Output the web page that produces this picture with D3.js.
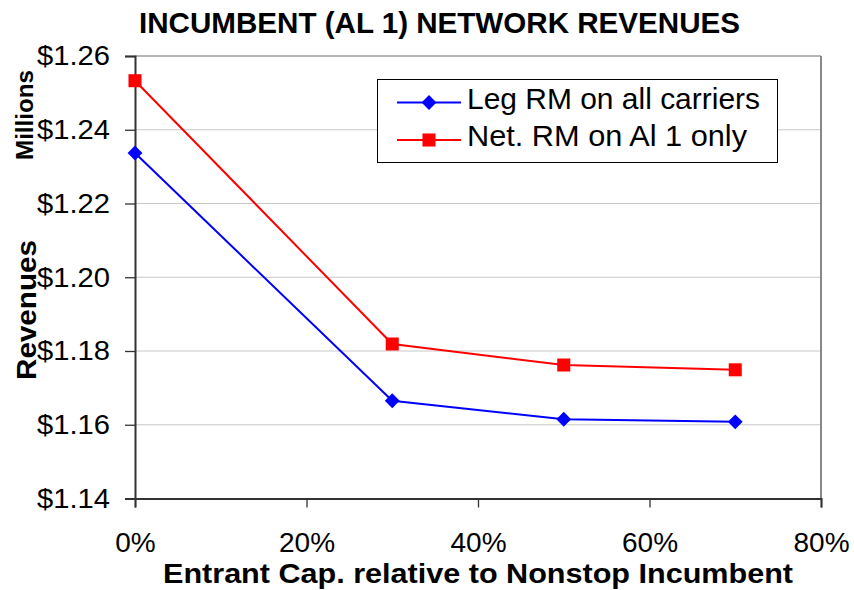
<!DOCTYPE html>
<html><head><meta charset="utf-8">
<script src="https://cdn.jsdelivr.net/npm/d3@7"></script>
<style>body{margin:0;background:#fff}svg{display:block}text{font-family:"Liberation Sans",Arial,sans-serif}</style>
</head><body>
<script>
const xValues = [0, 30, 50, 70];
const legRM = [1.2337, 1.1665, 1.1615, 1.1608];
const netRM = [1.2533, 1.1819, 1.1762, 1.1749];
const yTicks = [1.14, 1.16, 1.18, 1.20, 1.22, 1.24, 1.26];
const xTicks = [0, 20, 40, 60, 80];
const seriesNames = ["Leg RM on all carriers", "Net. RM on Al 1 only"];

const W = 854, H = 590;
const svg = d3.select("body").append("svg").attr("width", W).attr("height", H);
const m = {l: 135, r: 821, t: 56, b: 498.5};
const x = d3.scaleLinear().domain([0, 80]).range([m.l, m.r]);
const y = d3.scaleLinear().domain([1.14, 1.26]).range([m.b, m.t]);
const FF = '"Liberation Sans",Arial,sans-serif';

// gridlines
svg.append("g").selectAll("line").data(yTicks.slice(1)).join("line")
  .attr("x1", m.l).attr("x2", m.r).attr("y1", d => y(d)).attr("y2", d => y(d))
  .attr("stroke", "#c8c8c8").attr("stroke-width", 1);
// right / top border
svg.append("line").attr("x1", m.r).attr("x2", m.r).attr("y1", m.t).attr("y2", m.b)
  .attr("stroke", "#888").attr("stroke-width", 2);
svg.append("line").attr("x1", m.l).attr("x2", m.r).attr("y1", m.t).attr("y2", m.t)
  .attr("stroke", "#888").attr("stroke-width", 1);

// axes
const yAxis = d3.axisLeft(y).tickValues(yTicks).tickFormat(d => "$" + d.toFixed(2)).tickSize(10).tickPadding(15);
const gy = svg.append("g").attr("transform", `translate(${m.l},0)`).call(yAxis);
gy.select(".domain").attr("stroke", "#333").attr("stroke-width", 2);
gy.selectAll(".tick line").attr("stroke", "#333").attr("stroke-width", 1.3);
gy.selectAll("text").attr("font-size", 28).attr("fill", "#000").attr("font-family", FF)
  .attr("textLength", 73).attr("lengthAdjust", "spacingAndGlyphs");

const xAxis = d3.axisBottom(x).tickValues(xTicks).tickFormat(d => d + "%").tickSize(9).tickPadding(0);
const gx = svg.append("g").attr("transform", `translate(0,${m.b})`).call(xAxis);
gx.select(".domain").attr("stroke", "#333").attr("stroke-width", 2);
gx.selectAll(".tick line").attr("stroke", "#333").attr("stroke-width", 1.3);
gx.selectAll("text").attr("font-size", 28).attr("fill", "#000").attr("font-family", FF)
  .attr("dy", null).attr("y", 53.5);

// lines
const line = d3.line().x((d, i) => x(xValues[i])).y(d => y(d));
svg.append("path").datum(netRM).attr("d", line).attr("fill", "none").attr("stroke", "#ff0000").attr("stroke-width", 2);
svg.append("path").datum(legRM).attr("d", line).attr("fill", "none").attr("stroke", "#0000ff").attr("stroke-width", 2);

const sq = d3.symbol().type(d3.symbolSquare).size(170);
const dia = d3.symbol().type(d3.symbolSquare).size(110);
svg.append("g").selectAll("path").data(netRM).join("path")
  .attr("d", sq).attr("transform", (d, i) => `translate(${x(xValues[i])},${y(d)})`).attr("fill", "#ff0000");
svg.append("g").selectAll("path").data(legRM).join("path")
  .attr("d", dia)
  .attr("transform", (d, i) => `translate(${x(xValues[i])},${y(d)}) rotate(45)`).attr("fill", "#0000ff");

// legend
const lg = svg.append("g");
lg.append("rect").attr("x", 377.5).attr("y", 79.5).attr("width", 400).attr("height", 83)
  .attr("fill", "#fff").attr("stroke", "#000").attr("stroke-width", 1);
const lcol = ["#0000ff", "#ff0000"];
[0, 1].forEach(i => {
  const cy = 102.5 + i * 37.5;
  lg.append("line").attr("x1", 397).attr("x2", 461).attr("y1", cy).attr("y2", cy).attr("stroke", lcol[i]).attr("stroke-width", 2);
  if (i === 0) lg.append("path").attr("d", dia).attr("transform", `translate(429,${cy}) rotate(45)`).attr("fill", lcol[i]);
  else lg.append("path").attr("d", sq).attr("transform", `translate(429,${cy})`).attr("fill", lcol[i]);
  lg.append("text").attr("x", 467).attr("y", cy + 6).attr("font-size", 30).attr("fill", "#000")
    .attr("textLength", i === 0 ? 293 : 280).attr("lengthAdjust", "spacingAndGlyphs").text(seriesNames[i]);
});

// titles
svg.append("text").attr("x", 139).attr("y", 33).attr("font-size", 30).attr("font-weight", "bold")
  .attr("textLength", 601).attr("lengthAdjust", "spacingAndGlyphs").text("INCUMBENT (AL 1)  NETWORK REVENUES");
svg.append("text").attr("x", 163).attr("y", 583).attr("font-size", 28).attr("font-weight", "bold")
  .attr("textLength", 630).attr("lengthAdjust", "spacingAndGlyphs").text("Entrant Cap. relative to Nonstop Incumbent");
svg.append("text").attr("transform", "translate(36,380) rotate(-90)").attr("font-size", 28).attr("font-weight", "bold")
  .attr("textLength", 140).attr("lengthAdjust", "spacingAndGlyphs").text("Revenues");
svg.append("text").attr("transform", "translate(33,160) rotate(-90)").attr("font-size", 24).attr("font-weight", "bold")
  .attr("textLength", 90).attr("lengthAdjust", "spacingAndGlyphs").text("Millions");
</script>
</body></html>
